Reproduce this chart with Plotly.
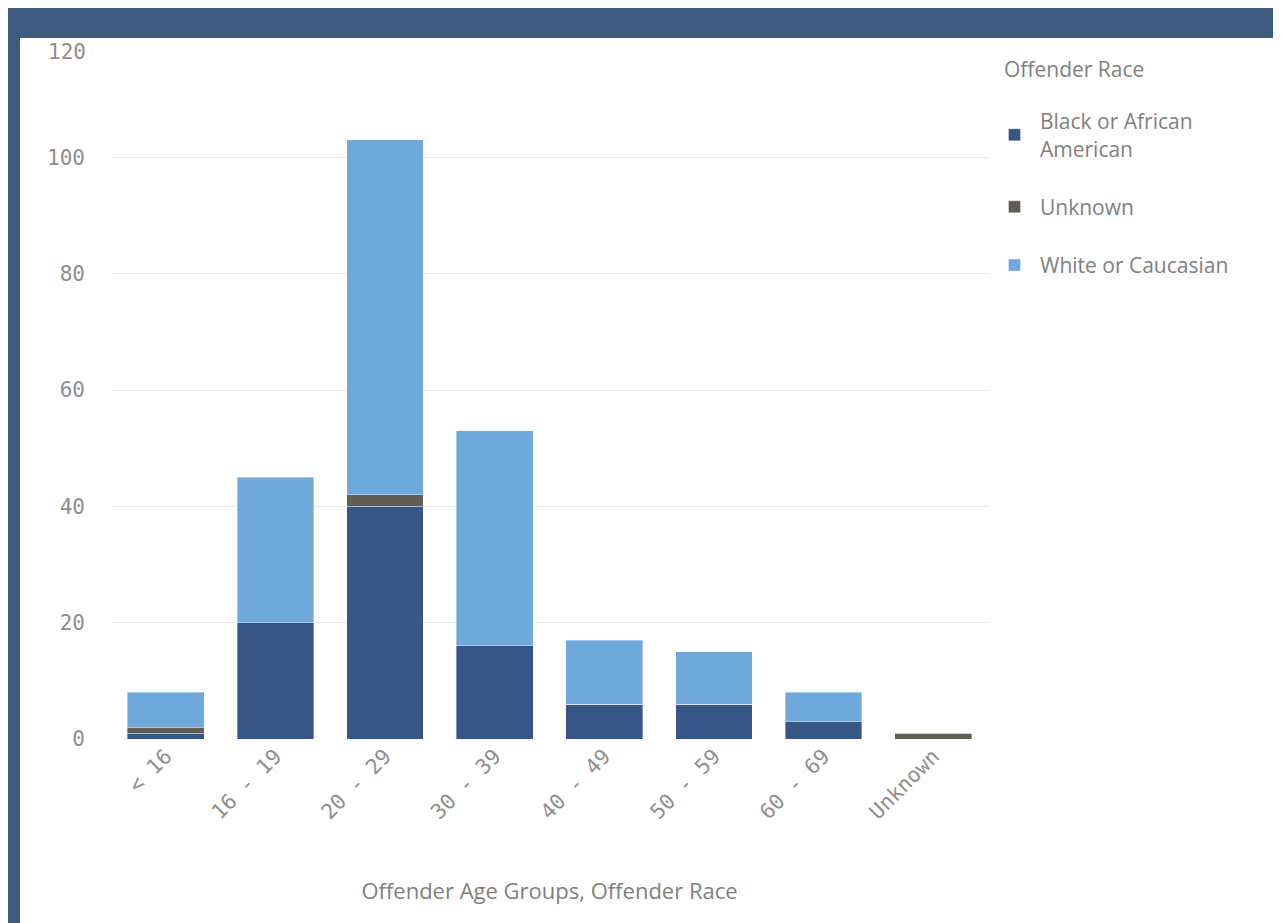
import plotly.graph_objects as go

age_groups = ["< 16", "16 - 19", "20 - 29", "30 - 39", "40 - 49", "50 - 59", "60 - 69", "Unknown"]
black = [1, 20, 40, 16, 6, 6, 3, 0]
unknown = [1, 0, 2, 0, 0, 0, 0, 1]
white = [6, 25, 61, 37, 11, 9, 5, 0]

y_tick_vals = [0, 20, 40, 60, 80, 100, 120]

series_names = ["Black or African<br>American", "Unknown", "White or Caucasian"]
series_colors = ["#385588", "#5f5d56", "#6fa9dc"]

# page body has an 8px margin; work in screen coords and subtract it
OFF = 8
W, H = 1281 - OFF, 923 - OFF
L, R, T, B = 111 - OFF, 988 - OFF, 41 - OFF, 739 - OFF


def px_x(p):
    return (p - OFF - L) / (R - L)


def px_y(p):
    return (B - (p - OFF)) / (B - T)


fig = go.Figure()
for name, vals, col in zip(series_names, [black, unknown, white], series_colors):
    fig.add_trace(go.Bar(
        x=age_groups, y=vals, name=name, legendgroup=name,
        marker=dict(color=col, line=dict(width=0.8, color="rgba(255,255,255,0.45)")),
    ))

banner = "#3e5a7f"
fig.add_shape(type="rect", xref="paper", yref="paper",
              x0=px_x(0), x1=px_x(1290), y0=px_y(38), y1=px_y(7),
              fillcolor=banner, line=dict(width=0), layer="above")
fig.add_shape(type="rect", xref="paper", yref="paper",
              x0=px_x(7), x1=px_x(20), y0=px_y(930), y1=px_y(38),
              fillcolor=banner, line=dict(width=0), layer="above")

tick_font = dict(family="DejaVu Sans Mono", size=21, color="#8e8e8e")
text_font = dict(family="Open Sans", size=21, color="#7f7f7f")

fig.add_annotation(
    text="Offender Race", xref="paper", yref="paper",
    x=px_x(1002), y=px_y(69), xanchor="left", yanchor="middle",
    showarrow=False, font=text_font,
)

# top tick label is nudged down below the banner, as in the original
top_tick = y_tick_vals[-1]
fig.add_annotation(
    text=str(top_tick), xref="paper", yref="paper",
    x=px_x(88), y=px_y(52), xanchor="right", yanchor="middle",
    showarrow=False, font=tick_font,
)

fig.update_layout(
    width=W, height=H,
    margin=dict(l=L, r=W - R, t=T, b=H - B),
    paper_bgcolor="white", plot_bgcolor="white",
    barmode="stack", bargap=0.3,
    showlegend=True,
    legend=dict(
        font=text_font, traceorder="grouped",
        x=px_x(989), y=px_y(101), xanchor="left", yanchor="top",
        tracegroupgap=28, itemwidth=41,
        bgcolor="rgba(0,0,0,0)",
    ),
    xaxis=dict(
        tickangle=-45, tickfont=tick_font, showgrid=False, showline=False,
        zeroline=False, ticks="",
        title=dict(text="Offender Age Groups, Offender Race",
                   font=dict(family="Open Sans", size=22, color="#7f7f7f"), standoff=60),
    ),
    yaxis=dict(
        range=[0, top_tick], tickvals=y_tick_vals[:-1], tickfont=tick_font,
        showgrid=True, gridcolor="#ececec", gridwidth=1,
        zeroline=False, showline=False, ticks="", ticklabelstandoff=25,
    ),
)

fig.write_html("out.html")
